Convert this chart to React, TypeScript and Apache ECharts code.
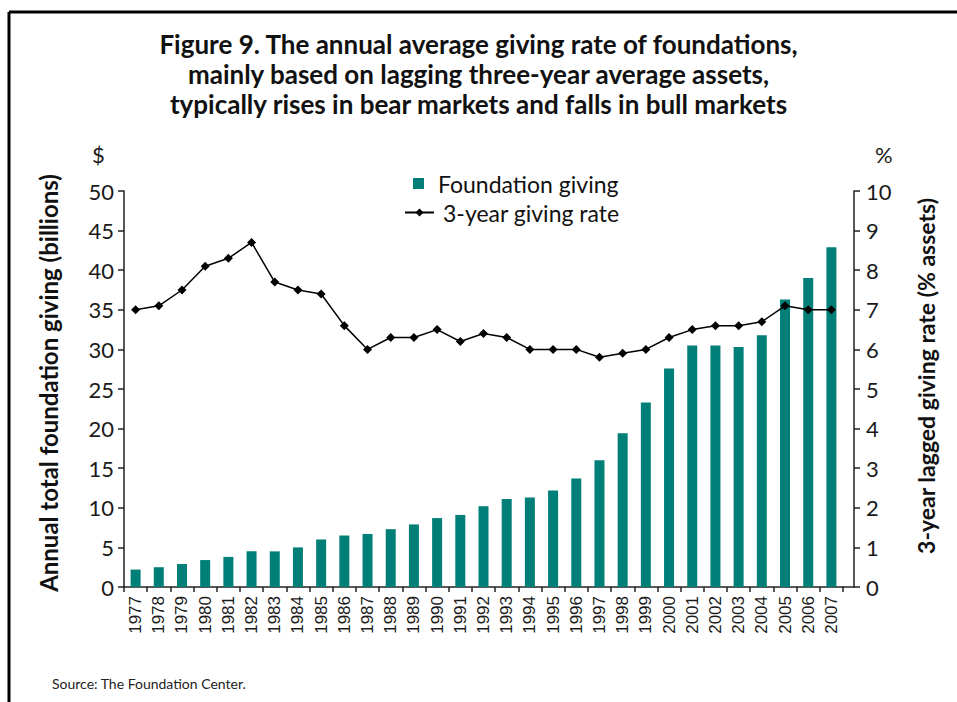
import React, { useEffect, useRef } from "react";
import * as echarts from "echarts";

const years = [
  "1977", "1978", "1979", "1980", "1981", "1982", "1983", "1984", "1985", "1986",
  "1987", "1988", "1989", "1990", "1991", "1992", "1993", "1994", "1995", "1996",
  "1997", "1998", "1999", "2000", "2001", "2002", "2003", "2004", "2005", "2006", "2007",
];
const foundationGiving = [
  2.2, 2.5, 2.9, 3.4, 3.8, 4.5, 4.5, 5.0, 6.0, 6.5,
  6.7, 7.3, 7.9, 8.7, 9.1, 10.2, 11.1, 11.3, 12.2, 13.7,
  16.0, 19.4, 23.3, 27.6, 30.5, 30.5, 30.3, 31.8, 36.3, 39.0, 42.9,
];
const givingRate = [
  7.0, 7.1, 7.5, 8.1, 8.3, 8.7, 7.7, 7.5, 7.4, 6.6,
  6.0, 6.3, 6.3, 6.5, 6.2, 6.4, 6.3, 6.0, 6.0, 6.0,
  5.8, 5.9, 6.0, 6.3, 6.5, 6.6, 6.6, 6.7, 7.1, 7.0, 7.0,
];
const titleLines = [
  "Figure 9. The annual average giving rate of foundations,",
  "mainly based on lagging three-year average assets,",
  "typically rises in bear markets and falls in bull markets",
];
const leftAxisName = "Annual total foundation giving (billions)";
const rightAxisName = "3-year lagged giving rate (% assets)";
const sourceText = "Source: The Foundation Center.";

const TEAL = "#007f78";
const FONT = "Lato, 'Open Sans', sans-serif";
const TXT = "#1a1a1a";

export default function App() {
  const ref = useRef<HTMLDivElement>(null);
  useEffect(() => {
    if (!ref.current) return;
    const chart = echarts.init(ref.current, undefined, { renderer: "svg" });
    chart.setOption({
      animation: false,
      backgroundColor: "#ffffff",
      title: {
        text: titleLines.join("\n"),
        left: "center",
        top: 24,
        padding: [5, 5, 5, 27],
        textStyle: {
          fontFamily: FONT,
          fontWeight: "bold",
          fontSize: 26,
          lineHeight: 30,
          color: "#111",
        },
      },
      legend: [
        {
          data: [{ name: "Foundation giving", icon: "rect" }],
          left: 408,
          top: 167,
          itemWidth: 11,
          itemHeight: 11,
          itemGap: 0,
          textStyle: { fontFamily: FONT, fontSize: 23, color: "#111", padding: [0, 0, 0, 9] },
        },
        {
          data: ["3-year giving rate"],
          left: 399,
          top: 196,
          itemWidth: 29,
          itemHeight: 10,
          textStyle: { fontFamily: FONT, fontSize: 23, color: "#111", padding: [0, 0, 0, 4] },
        },
      ],
      grid: { left: 124, top: 191, width: 719, height: 396, containLabel: false },
      xAxis: {
        type: "category",
        data: years,
        axisLine: { lineStyle: { color: "#222", width: 1.5 } },
        axisTick: { show: true, alignWithLabel: false, length: 5, lineStyle: { color: "#222", width: 1.5 } },
        axisLabel: {
          rotate: 90,
          interval: 0,
          fontFamily: "'Liberation Sans', Arial, sans-serif",
          fontSize: 17,
          color: TXT,
          margin: 9,
        },
      },
      yAxis: [
        {
          type: "value",
          min: 0,
          max: 50,
          interval: 5,
          name: leftAxisName,
          nameLocation: "middle",
          nameRotate: 90,
          nameGap: 64,
          nameTextStyle: { fontFamily: FONT, fontWeight: "bold", fontSize: 24, color: "#111", padding: [0, 0, 0, 12] },
          splitLine: { show: false },
          axisLine: { show: true, lineStyle: { color: "#222", width: 1.5 } },
          axisTick: { show: true, length: 6, lineStyle: { color: "#222", width: 1.5 } },
          axisLabel: { fontFamily: FONT, fontSize: 22, color: TXT, margin: 10 },
        },
        {
          type: "value",
          min: 0,
          max: 10,
          interval: 1,
          position: "right",
          offset: 11,
          name: rightAxisName,
          nameLocation: "middle",
          nameRotate: 90,
          nameGap: 60,
          nameTextStyle: { fontFamily: FONT, fontWeight: "bold", fontSize: 23, color: "#111", padding: [0, 0, 0, 26] },
          splitLine: { show: false },
          axisLine: { show: true, lineStyle: { color: "#222", width: 1.5 } },
          axisTick: { show: true, length: 6, lineStyle: { color: "#222", width: 1.5 } },
          axisLabel: { fontFamily: FONT, fontSize: 22, color: TXT, margin: 12 },
        },
      ],
      series: [
        {
          name: "Foundation giving",
          type: "bar",
          yAxisIndex: 0,
          data: foundationGiving,
          barWidth: 10,
          itemStyle: { color: TEAL },
        },
        {
          name: "3-year giving rate",
          type: "line",
          yAxisIndex: 1,
          data: givingRate,
          symbol: "diamond",
          symbolSize: 9,
          lineStyle: { color: "#000", width: 1.5 },
          itemStyle: { color: "#000" },
        },
      ],
      graphic: [
        { type: "line", shape: { x1: 9, y1: 12, x2: 957, y2: 12 }, style: { stroke: "#000", lineWidth: 3 } },
        { type: "line", shape: { x1: 9, y1: 12, x2: 9, y2: 702 }, style: { stroke: "#000", lineWidth: 3 } },
        { type: "line", shape: { x1: 843, y1: 587, x2: 854, y2: 587 }, style: { stroke: "#222", lineWidth: 1.5 } },
        {
          type: "text",
          left: 92,
          top: 143,
          style: { text: "$", fontFamily: FONT, fontSize: 22, fill: TXT },
        },
        {
          type: "text",
          left: 875,
          top: 143,
          style: { text: "%", fontFamily: FONT, fontSize: 22, fill: TXT },
        },
        {
          type: "text",
          left: 52,
          top: 676,
          style: { text: sourceText, fontFamily: FONT, fontSize: 14, fill: "#222" },
        },
      ],
    });
    return () => chart.dispose();
  }, []);
  return <div ref={ref} style={{ width: 957, height: 702, position: "absolute", left: 0, top: 0 }} />;
}
